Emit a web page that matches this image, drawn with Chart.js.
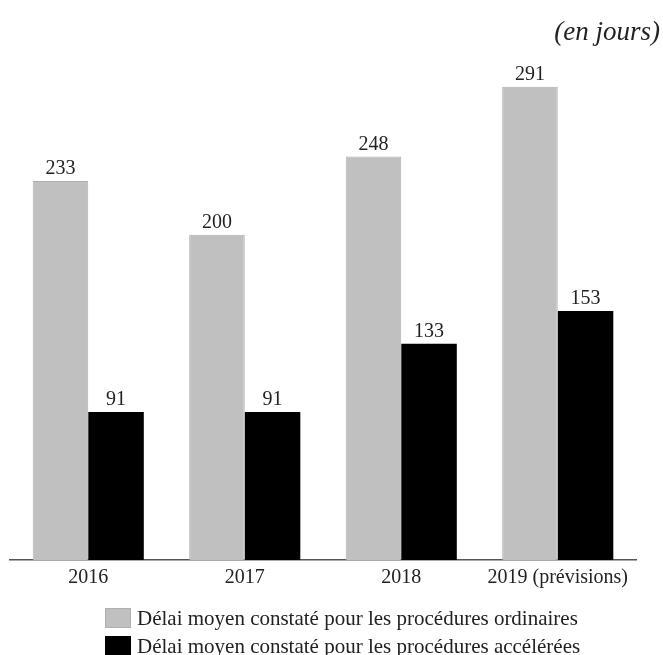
<!DOCTYPE html>
<html>
<head>
<meta charset="utf-8">
<script src="https://cdn.jsdelivr.net/npm/chart.js@4.4.0/dist/chart.umd.min.js"></script>
<style>
  html, body { margin: 0; padding: 0; background: #fff; }
  #wrap { width: 663px; height: 655px; }
</style>
</head>
<body>
<div id="wrap"><canvas id="delais"></canvas></div>
<script>
var years = ["2016", "2017", "2018", "2019 (prévisions)"];
var ordinaires = [233, 200, 248, 291];
var acceleres = [91, 91, 133, 153];
var seriesNames = [
  "Délai moyen constaté pour les procédures ordinaires",
  "Délai moyen constaté pour les procédures accélérées"
];
var unitLabel = "(en jours)";

var serif = "'Liberation Serif', 'DejaVu Serif', serif";

// values above each bar, the unit in the top right corner and the legend rows
var extras = {
  id: 'extras',
  afterDatasetsDraw: function (chart) {
    var ctx = chart.ctx;
    ctx.save();
    ctx.fillStyle = '#222';
    ctx.font = '20px ' + serif;
    ctx.textAlign = 'center';
    ctx.textBaseline = 'alphabetic';
    chart.data.datasets.forEach(function (ds, i) {
      chart.getDatasetMeta(i).data.forEach(function (bar, j) {
        ctx.fillText(ds.data[j], bar.x, bar.y - 7);
      });
    });

    ctx.font = 'italic 27px ' + serif;
    ctx.textAlign = 'right';
    ctx.fillText(unitLabel, 660, 40);

    ctx.font = '21px ' + serif;
    ctx.textAlign = 'left';
    chart.data.datasets.forEach(function (ds, i) {
      var y = 608 + i * 28;
      ctx.fillStyle = ds.backgroundColor;
      ctx.fillRect(105, y, 26, 20);
      if (ds.borderWidth) {
        ctx.strokeStyle = ds.borderColor;
        ctx.lineWidth = 1;
        ctx.strokeRect(105.5, y + 0.5, 25, 19);
      }
      ctx.fillStyle = '#222';
      ctx.fillText(ds.label, 137, y + 17);
    });
    ctx.restore();
  }
};

new Chart(document.getElementById('delais'), {
  type: 'bar',
  data: {
    labels: years,
    datasets: [
      {
        label: seriesNames[0],
        data: ordinaires,
        backgroundColor: '#c0c0c0',
        borderColor: '#b0b0b0',
        borderWidth: 1,
        borderSkipped: 'bottom'
      },
      {
        label: seriesNames[1],
        data: acceleres,
        backgroundColor: '#000000',
        borderWidth: 0
      }
    ]
  },
  options: {
    responsive: true,
    maintainAspectRatio: false,
    animation: false,
    categoryPercentage: 0.71,
    barPercentage: 1,
    layout: { padding: { left: 10, right: 27, top: 72, bottom: 59 } },
    plugins: {
      legend: { display: false },
      title: { display: false },
      tooltip: { enabled: false }
    },
    scales: {
      x: {
        offset: true,
        grid: { display: false, drawTicks: false },
        border: { display: true, color: '#555', width: 1.5 },
        ticks: { color: '#222', padding: 6, font: { family: serif, size: 20 } }
      },
      y: {
        display: false,
        min: 0,
        max: 300
      }
    }
  },
  plugins: [extras]
});
</script>
</body>
</html>
